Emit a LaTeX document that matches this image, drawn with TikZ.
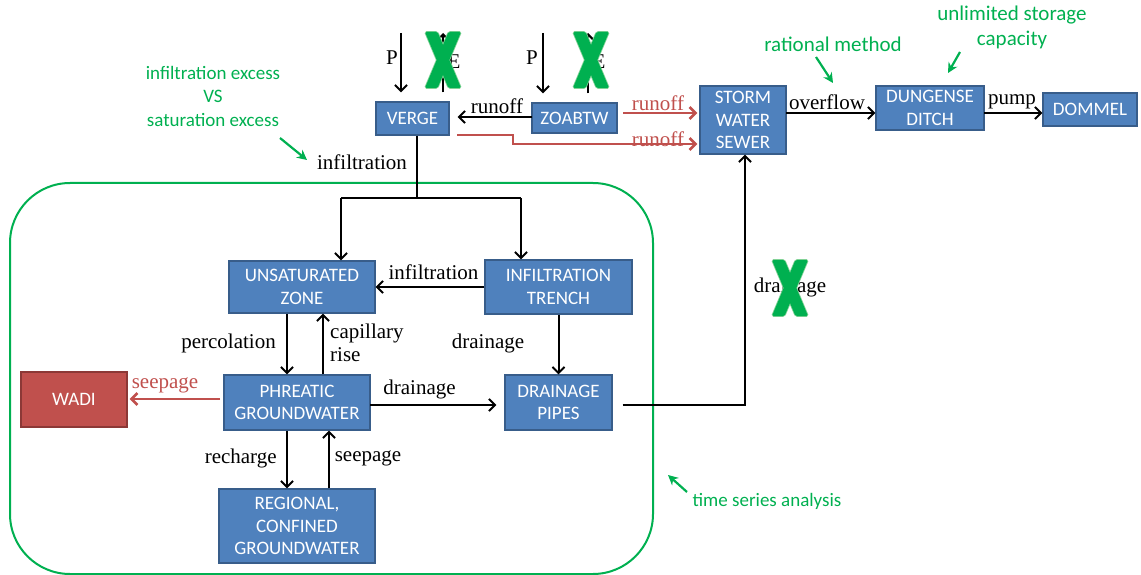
\documentclass[tikz,border=0pt]{standalone}
\usepackage{fontspec}
\setmainfont{Liberation Serif}
\newfontfamily\boxfont{Carlito}
\usetikzlibrary{arrows.meta}
\definecolor{boxblue}{HTML}{4F81BD}
\definecolor{boxborder}{HTML}{385D8A}
\definecolor{wadired}{HTML}{C0504D}
\definecolor{wadiborder}{HTML}{8C3836}
\definecolor{redline}{HTML}{C0504D}
\definecolor{annot}{HTML}{00B050}
\definecolor{xgreen}{RGB}{0,176,80}
\definecolor{xedge}{RGB}{130,210,150}
\newcommand\crossmark[2]{%
  \begin{scope}[shift={(#1,#2)},rounded corners=1.5pt]
    \draw[xedge,line width=1.6pt] (-18,-28) -- (-5.5,-28) -- (18,28) -- (5.5,28) -- cycle;
    \draw[xedge,line width=1.6pt] (18,-28) -- (5.5,-28) -- (-18,28) -- (-5.5,28) -- cycle;
    \fill[xgreen] (-18,-28) -- (-5.5,-28) -- (18,28) -- (5.5,28) -- cycle;
    \fill[xgreen] (18,-28) -- (5.5,-28) -- (-18,28) -- (-5.5,28) -- cycle;
  \end{scope}}
\begin{document}
\begin{tikzpicture}[x=1pt,y=-1pt,
  box/.style={draw=boxborder,line width=1.3pt,fill=boxblue,text=white,
    font=\boxfont\fontsize{19}{22.5}\selectfont,align=center,inner sep=0pt},
  redbox/.style={box,draw=wadiborder,fill=wadired},
  lbl/.style={font=\fontsize{21}{23}\selectfont,inner sep=0pt},
  redlbl/.style={lbl,text=redline},
  gtext/.style={font=\boxfont\fontsize{19}{23.5}\selectfont,text=annot,align=center,inner sep=0pt},
  gtextbig/.style={gtext,font=\boxfont\fontsize{21}{25}\selectfont},
  wire/.style={line width=2pt,draw=black},
  arr/.style={wire,-{Straight Barb[length=6pt,width=12pt,line width=2pt]}},
  redarr/.style={line width=2.6pt,draw=redline,-{Straight Barb[length=6pt,width=12pt,line width=2.6pt]}},
  garr/.style={line width=2.2pt,draw=annot,-{Stealth[length=10pt,width=10pt]}}
]
\useasboundingbox (0,0) rectangle (1141,575);

% model domain
\draw[annot,line width=2pt,rounded corners=60pt] (10,183) rectangle (653,574);

% boxes
\node[box,minimum width=73pt,minimum height=33pt] (verge) at (412.5,118.5) {VERGE};
\node[box,minimum width=85pt,minimum height=30pt] (zoabtw) at (574.5,118) {ZOABTW};
\node[box,minimum width=86pt,minimum height=68pt] (storm) at (743,120) {STORM\\WATER\\SEWER};
\node[box,minimum width=108pt,minimum height=44pt] (ditch) at (930,108) {DUNGENSE\\DITCH};
\node[box,minimum width=94pt,minimum height=33pt] (dommel) at (1090,109.5) {DOMMEL};
\node[box,minimum width=146pt,minimum height=52pt] (unsat) at (302,287) {UNSATURATED\\ZONE};
\node[box,minimum width=147pt,minimum height=54pt] (trench) at (558.5,287) {INFILTRATION\\TRENCH};
\node[box,minimum width=146pt,minimum height=55pt] (phreatic) at (297,402.5) {PHREATIC\\GROUNDWATER};
\node[box,minimum width=107pt,minimum height=55pt] (pipes) at (558.5,402.5) {DRAINAGE\\PIPES};
\node[redbox,minimum width=106pt,minimum height=55pt] (wadi) at (74,399.5) {WADI};
\node[box,minimum width=156pt,minimum height=74pt] (regional) at (297,526) {REGIONAL,\\CONFINED\\GROUNDWATER};

% P and E on the verge
\coordinate (pv) at (401,33);
\coordinate (ev) at (443,33);
\draw[arr,shorten >=9pt] (pv) -- (pv |- verge.north);
\draw[arr,shorten <=9pt] (ev |- verge.north) -- (ev);
\node[lbl] (plv) at (392,58) {P};
\node[lbl] (elv) at (454,62) {E};
% P and E on ZOABTW
\coordinate (pz) at (543,33);
\coordinate (ez) at (588,33);
\draw[arr,shorten >=9pt] (pz) -- (pz |- zoabtw.north);
\draw[arr,shorten <=9pt] (ez |- zoabtw.north) -- (ez);
\node[lbl] (plz) at (532,58) {P};
\node[lbl] (elz) at (599,62) {E};

% runoff ZOABTW -> verge
\coordinate (ro) at (532,117);
\draw[arr,shorten >=8pt] (ro) -- (ro -| verge.east);
\node[lbl] (lro) at (497,106) {runoff};

% red runoff arrows
\coordinate (r1) at (623,113);
\draw[redarr,shorten >=2pt] (r1) -- (r1 -| storm.west);
\node[redlbl] (lr1) at (658,103) {runoff};
\coordinate (r2) at (457,135);
\coordinate (r2b) at (513,135);
\coordinate (r2c) at (513,144);
\draw[redarr,shorten >=2pt] (r2) -- (r2b) -- (r2c) -- (r2c -| storm.west);
\node[redlbl] (lr2) at (658,139) {runoff};

% overflow and pump
\coordinate (ov) at (786,113);
\draw[arr] (ov) -- (ov -| ditch.west);
\node[lbl] (lov) at (827,102) {overflow};
\coordinate (pu) at (984,113);
\draw[arr] (pu) -- (pu -| dommel.west);
\node[lbl] (lpu) at (1012,102) {pump};

% infiltration from verge
\coordinate (j) at (417,198);
\coordinate (jl) at (341,198);
\coordinate (jr) at (521,198);
\draw[wire] (verge.south -| j) -- (j);
\draw[wire] (jl) -- (jr);
\draw[arr] (jl) -- (jl |- unsat.north);
\draw[arr] (jr) -- (jr |- trench.north);
\node[lbl] (linf) at (362,162) {infiltration};

% inside the domain
\draw[arr] (trench.west) -- (unsat.east);
\node[lbl] (linf2) at (433.5,272) {infiltration};

\coordinate (pcx) at (287,350);
\draw[arr] (unsat.south -| pcx) -- (phreatic.north -| pcx);
\node[lbl] (lperc) at (228.5,343) {percolation};

\coordinate (crx) at (323,350);
\draw[arr] (phreatic.north -| crx) -- (unsat.south -| crx);
\node[lbl,align=left,anchor=west,font=\fontsize{21}{22.5}\selectfont] (lcap) at (330,343) {capillary\\rise};

\draw[arr] (trench.south) -- (pipes.north);
\node[lbl] (ldr1) at (488,343) {drainage};

\coordinate (dr2) at (370,405);
\draw[arr,shorten >=8pt] (dr2) -- (dr2 -| pipes.west);
\node[lbl] (ldr2) at (419.5,389) {drainage};

\coordinate (sw) at (220,399);
\draw[redarr,shorten >=2pt] (sw) -- (sw -| wadi.east);
\node[redlbl] (lsw) at (165,385) {seepage};

\draw[arr] (phreatic.south -| pcx) -- (regional.north -| pcx);
\node[lbl] (lrech) at (240.7,458) {recharge};

\coordinate (sx) at (329,460);
\draw[arr] (regional.north -| sx) -- (phreatic.south -| sx);
\node[lbl] (lseep) at (368,458) {seepage};

% drainage pipes -> storm water sewer
\coordinate (dp) at (745,405);
\draw[arr,shorten <=10pt] (pipes.east |- dp) -- (dp) -- (storm.south -| dp);
\node[lbl] (ldr3) at (790,287) {drainage};

% annotations
\node[gtext] (ie) at (213,96) {infiltration excess\\VS\\saturation excess};
\coordinate (ie1) at (280,138);
\coordinate (ie2) at (307,160);
\draw[garr] (ie1) -- (ie2);
\node[gtextbig] (rm) at (833,44) {rational method};
\coordinate (rm1) at (816,57);
\coordinate (rm2) at (833,83);
\draw[garr] (rm1) -- (rm2);
\node[gtextbig] (us) at (1012,27) {unlimited storage\\capacity};
\coordinate (us1) at (960,52);
\coordinate (us2) at (948,73);
\draw[garr] (us1) -- (us2);
\node[gtext] (ts) at (767,501) {time series analysis};
\coordinate (ts1) at (687,492);
\coordinate (ts2) at (668,475);
\draw[garr] (ts1) -- (ts2);

% crossed-out fluxes
\crossmark{443}{60}
\crossmark{591}{60}
\crossmark{790}{288}
\end{tikzpicture}
\end{document}
